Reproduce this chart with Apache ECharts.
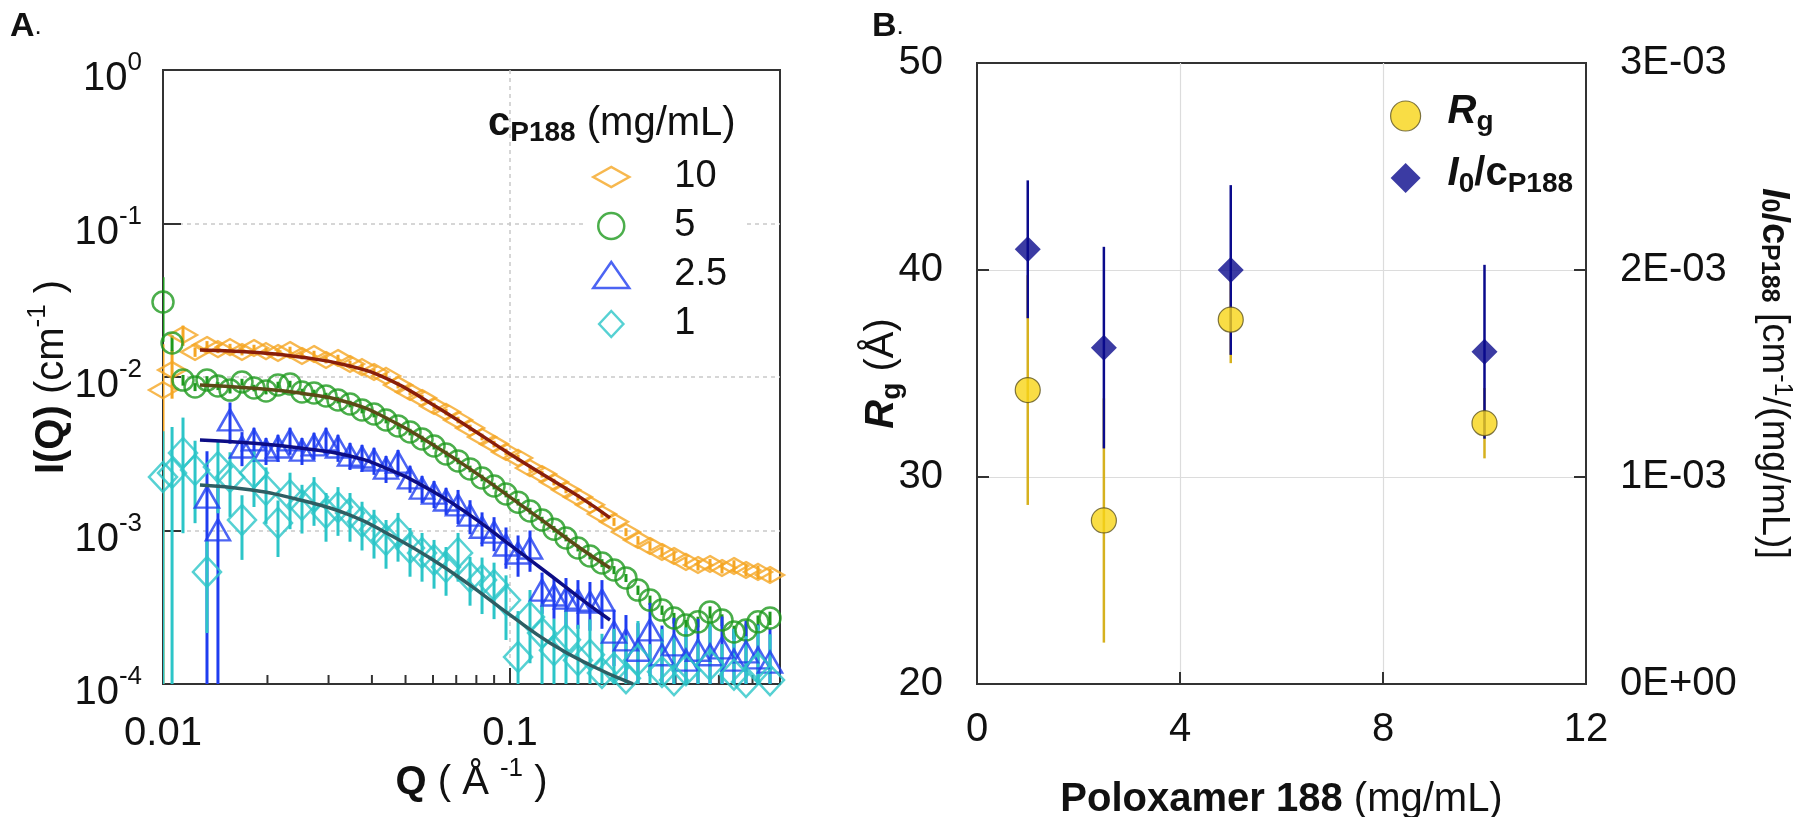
<!DOCTYPE html>
<html>
<head>
<meta charset="utf-8">
<title>SANS of Poloxamer 188</title>
<script src="https://cdn.jsdelivr.net/npm/echarts@6.0.0/dist/echarts.min.js"></script>
<style>
html,body{margin:0;padding:0;background:#ffffff;}
#chart{width:1800px;height:817px;}
</style>
</head>
<body>
<div id="chart"></div>
<script>
// ================= Panel A data : I(Q) vs Q =================
const qValues = [0.01000, 0.01062, 0.01142, 0.01237, 0.01339, 0.01440, 0.01560, 0.01689, 0.01829, 0.01981,
  0.02145, 0.02323, 0.02515, 0.02724, 0.02950, 0.03194, 0.03459, 0.03746, 0.04056, 0.04393,
  0.04757, 0.05151, 0.05579, 0.06041, 0.06542, 0.07084, 0.07671, 0.08307, 0.08996, 0.09739,
  0.1055, 0.1142, 0.1237, 0.1339, 0.1450, 0.1570, 0.1700, 0.1841, 0.1994, 0.2159,
  0.2338, 0.2532, 0.2742, 0.2969, 0.3215, 0.3482, 0.3771, 0.4083, 0.4421, 0.4788,
  0.5185, 0.5615];

const iConc10 = [0.00822, 0.01111, 0.01879, 0.01455, 0.01616, 0.01521, 0.01567, 0.01455, 0.01545, 0.01476,
  0.01433, 0.01500, 0.01371, 0.01412, 0.01291, 0.01330, 0.01216, 0.01161, 0.01078, 0.01016,
  0.00887, 0.00799, 0.00730, 0.00647, 0.00592, 0.00525, 0.00466, 0.00407, 0.00366, 0.00325,
  0.00297, 0.00255, 0.00233, 0.00207, 0.00184, 0.00165, 0.00147, 0.00128, 0.00114, 0.000977,
  0.000867, 0.000793, 0.000724, 0.000682, 0.000624, 0.000596, 0.000605, 0.000570, 0.000587, 0.000553,
  0.000537, 0.000513];
const relErr10 = [0.99, 0.35, 0.15, 0.07, 0.06, 0.06, 0.05, 0.05, 0.05, 0.05,
  0.05, 0.05, 0.05, 0.05, 0.05, 0.05, 0.05, 0.05, 0.05, 0.05,
  0.05, 0.05, 0.05, 0.05, 0.05, 0.05, 0.05, 0.05, 0.05, 0.05,
  0.05, 0.05, 0.05, 0.05, 0.05, 0.05, 0.05, 0.05, 0.06, 0.06,
  0.06, 0.06, 0.07, 0.07, 0.07, 0.08, 0.08, 0.08, 0.09, 0.09,
  0.10, 0.10];

const iConc5 = [0.03083, 0.01664, 0.00955, 0.00861, 0.00955, 0.00874, 0.00822, 0.00927, 0.00848, 0.00811,
  0.00887, 0.00900, 0.00799, 0.00787, 0.00752, 0.00708, 0.00667, 0.00610, 0.00574, 0.00525,
  0.00480, 0.00438, 0.00395, 0.00355, 0.00315, 0.00284, 0.00252, 0.00220, 0.00195, 0.00173,
  0.00153, 0.00134, 0.00117, 0.00102, 0.000894, 0.000769, 0.000682, 0.000614, 0.000553, 0.000491,
  0.000409, 0.000352, 0.000303, 0.000269, 0.000242, 0.000254, 0.000294, 0.000261, 0.000218, 0.000225,
  0.000254, 0.000269];
const relErr5 = [0.45, 0.12, 0.08, 0.06, 0.06, 0.06, 0.05, 0.05, 0.05, 0.05,
  0.05, 0.05, 0.05, 0.05, 0.05, 0.05, 0.05, 0.05, 0.05, 0.05,
  0.05, 0.05, 0.05, 0.05, 0.05, 0.05, 0.05, 0.05, 0.05, 0.05,
  0.05, 0.05, 0.05, 0.05, 0.05, 0.05, 0.05, 0.06, 0.06, 0.06,
  0.07, 0.07, 0.07, 0.08, 0.08, 0.08, 0.09, 0.09, 0.10, 0.10,
  0.10, 0.10];

const iConc2p5 = [null, null, null, null, 0.00165, 0.00101, 0.00525, 0.00350, 0.00389, 0.00334,
  0.00350, 0.00389, 0.00334, 0.00361, 0.00389, 0.00350, 0.00310, 0.00301, 0.00288, 0.00255,
  0.00279, 0.00220, 0.00189, 0.00175, 0.00158, 0.00147, 0.00126, 0.00105, 0.000977, 0.000805,
  0.000714, 0.000769, 0.000409, 0.000380, 0.000363, 0.000352, 0.000342, 0.000352, 0.000218, 0.000194,
  0.000166, 0.000225, 0.000155, 0.000180, 0.000143, 0.000166, 0.000155, 0.000172, 0.000143, 0.000162,
  0.000148, 0.000139];
const relErr2p5 = [0, 0, 0, 0, 0.99, 0.99, 0.30, 0.25, 0.20, 0.20,
  0.20, 0.20, 0.20, 0.20, 0.20, 0.20, 0.20, 0.20, 0.20, 0.20,
  0.20, 0.20, 0.20, 0.20, 0.20, 0.25, 0.25, 0.25, 0.25, 0.30,
  0.30, 0.30, 0.30, 0.30, 0.35, 0.35, 0.35, 0.35, 0.40, 0.45,
  0.50, 0.50, 0.55, 0.50, 0.55, 0.60, 0.55, 0.60, 0.60, 0.60,
  0.65, 0.65];

const iConc1 = [0.00223, 0.00237, 0.00320, 0.00248, 0.000537, 0.00259, 0.00223, 0.00117, 0.00237, 0.00184,
  0.00112, 0.00170, 0.00147, 0.00165, 0.00130, 0.00142, 0.00130, 0.00114, 0.00101, 0.000867,
  0.000964, 0.000769, 0.000714, 0.000643, 0.000578, 0.000714, 0.000498, 0.000476, 0.000441, 0.000352,
  0.000150, 0.000273, 0.000215, 0.000166, 0.000194, 0.000143, 0.000155, 0.000118, 0.000127, 0.000109,
  0.000143, 0.0000914, 0.000120, 0.000106, 0.000123, 0.0000985, 0.000133, 0.0000914, 0.000115, 0.000103,
  0.000127, 0.000106];
const relErr1 = [0.99, 0.99, 0.70, 0.55, 0.60, 0.50, 0.45, 0.45, 0.40, 0.40,
  0.40, 0.40, 0.35, 0.35, 0.35, 0.35, 0.35, 0.35, 0.35, 0.35,
  0.35, 0.35, 0.35, 0.35, 0.35, 0.35, 0.35, 0.40, 0.40, 0.45,
  0.99, 0.50, 0.55, 0.60, 0.60, 0.70, 0.70, 0.80, 0.80, 0.90,
  0.80, 0.99, 0.90, 0.99, 0.90, 0.99, 0.90, 0.99, 0.99, 0.99,
  0.90, 0.99];

// model fits
const fitQ = [0.01278, 0.01781, 0.02482, 0.03459, 0.04511, 0.05883, 0.07668, 0.1000, 0.1304, 0.1591, 0.1942];
const fitConc10 = [0.01500, 0.01455, 0.01349, 0.01180, 0.00955, 0.00677, 0.00466, 0.00315, 0.00217, 0.00165, 0.00121];
const fitConc5 = [0.00887, 0.00848, 0.00787, 0.00677, 0.00525, 0.00372, 0.00252, 0.00165, 0.00107, 0.000769, 0.000570];
const fitConc2p5 = [0.00389, 0.00372, 0.00345, 0.00306, 0.00248, 0.00184, 0.00126, 0.000805, 0.000513, 0.000363, 0.000261];
const fitQConc1 = [0.01278, 0.01781, 0.02482, 0.03459, 0.04511, 0.05883, 0.07668, 0.1000, 0.1304, 0.1700, 0.2262];
const fitConc1 = [0.00198, 0.00184, 0.00158, 0.00126, 0.000935, 0.000662, 0.000441, 0.000282, 0.000185, 0.000133, 0.000100];

// axis ticks for panel A
const qTickValues = [0.01, 0.1];
const qTickLabels = ['0.01', '0.1'];
const qMinorTicks = [0.02, 0.03, 0.04, 0.05, 0.06, 0.07, 0.08, 0.09, 0.2, 0.3, 0.4, 0.5];
const iTickValues = [1e-4, 1e-3, 1e-2, 1e-1, 1];
const iTickExponents = ['-4', '-3', '-2', '-1', '0'];

// ================= Panel B data =================
const p188Conc = [1, 2.5, 5, 10];
const rgValues = [34.2, 27.9, 37.6, 32.6];
const rgErrors = [5.55, 5.9, 2.1, 1.7];
const i0cValues = [0.002100, 0.001625, 0.002000, 0.001605];
const i0cErrors = [0.000333, 0.000487, 0.000410, 0.000420];

// ================= styling =================
const FONT = '"Liberation Sans", Arial, Helvetica, sans-serif';
const INK = '#111111';
const AXIS = '#333333';
const COL = {c10: '#F5A623', c5: '#1E9A1E', c2p5: '#1F3DF0', c1: '#2CC5C8'};
const FITCOL = {c10: '#8A1E0A', c5: '#5B4A16', c2p5: '#0D0D85', c1: '#2E5E63'};
const RG_FILL = '#F7D417', RG_BAR = '#D6B11E', I0_COL = '#0A0A8C';

function points(vals) {
  const out = [];
  qValues.forEach((q, i) => { if (vals[i] != null) out.push([q, vals[i]]); });
  return out;
}
function bars(vals, rel) {
  const out = [];
  qValues.forEach((q, i) => { if (vals[i] != null) out.push([q, vals[i] * (1 - rel[i]), vals[i] * (1 + rel[i])]); });
  return out;
}
function fitLine(qs, vals) { return qs.map((q, i) => [q, vals[i]]); }
function barRender(color, width, floor) {
  return function (params, api) {
    const x = api.value(0);
    let lo = api.value(1);
    const hi = api.value(2);
    if (floor != null && !(lo > floor)) lo = floor;
    const a = api.coord([x, hi]);
    const b = api.coord([x, lo]);
    return {type: 'line', shape: {x1: a[0], y1: a[1], x2: b[0], y2: b[1]},
      style: {stroke: color, lineWidth: width}};
  };
}
function near(v, t) { return Math.abs(v - t) <= Math.abs(t) * 1e-6; }
function sciLabel(v) {
  if (Math.abs(v) < 1e-12) return '0E+00';
  const e = Math.floor(Math.log10(Math.abs(v)) + 1e-9);
  const m = Math.round(v / Math.pow(10, e));
  const ae = Math.abs(e);
  return m + 'E' + (e < 0 ? '-' : '+') + (ae < 10 ? '0' : '') + ae;
}

const richTickY = {
  b: {fontFamily: FONT, fontSize: 40, color: INK, lineHeight: 40, padding: [18, 0, 0, 0]},
  s: {fontFamily: FONT, fontSize: 26, color: INK, lineHeight: 26, verticalAlign: 'top'}
};
const richTitleA = {
  b: {fontFamily: FONT, fontSize: 40, fontWeight: 'bold', color: INK, lineHeight: 40, padding: [14, 0, 0, 0]},
  n: {fontFamily: FONT, fontSize: 40, color: INK, lineHeight: 40, padding: [14, 0, 0, 0]},
  s: {fontFamily: FONT, fontSize: 26, color: INK, lineHeight: 26, verticalAlign: 'top'}
};
const richTitleBX = {
  b: {fontFamily: FONT, fontSize: 40, fontWeight: 'bold', color: INK, lineHeight: 40},
  n: {fontFamily: FONT, fontSize: 40, color: INK, lineHeight: 40}
};
const richRg = {
  ri: {fontFamily: FONT, fontSize: 40, fontWeight: 'bold', fontStyle: 'italic', color: INK, lineHeight: 40, padding: [0, 0, 8, 0]},
  b: {fontFamily: FONT, fontSize: 40, fontWeight: 'bold', color: INK, lineHeight: 40, padding: [0, 0, 8, 0]},
  n: {fontFamily: FONT, fontSize: 40, color: INK, lineHeight: 40, padding: [0, 0, 8, 0]},
  sub: {fontFamily: FONT, fontSize: 28, fontWeight: 'bold', color: INK, lineHeight: 28, verticalAlign: 'bottom'}
};
const richI0Axis = {
  bi: {fontFamily: FONT, fontSize: 38, fontWeight: 'bold', fontStyle: 'italic', color: INK, lineHeight: 38, padding: [12, 0, 8, 0]},
  b: {fontFamily: FONT, fontSize: 38, fontWeight: 'bold', color: INK, lineHeight: 38, padding: [12, 0, 8, 0]},
  n: {fontFamily: FONT, fontSize: 38, color: INK, lineHeight: 38, padding: [12, 0, 8, 0]},
  sub: {fontFamily: FONT, fontSize: 25, fontWeight: 'bold', color: INK, lineHeight: 25, verticalAlign: 'bottom'},
  sup: {fontFamily: FONT, fontSize: 25, color: INK, lineHeight: 25, verticalAlign: 'top'}
};

const hollow = (c) => ({color: 'rgba(0,0,0,0)', borderColor: c, borderWidth: 2.5});
const dottedGrid = {show: true, showMinLine: false, showMaxLine: false,
  lineStyle: {color: '#c9c9c9', width: 1.5, type: [4, 4]}};
const solidGrid = {show: true, showMinLine: false, showMaxLine: false,
  lineStyle: {color: '#dcdcdc', width: 1.2, type: 'solid'}};

const chart = echarts.init(document.getElementById('chart'), null, {renderer: 'canvas'});

const option = {
  animation: false,
  backgroundColor: '#ffffff',
  textStyle: {fontFamily: FONT, color: INK},
  grid: [
    {left: 163, top: 70, width: 617, height: 614, show: true, borderColor: AXIS, borderWidth: 2,
      backgroundColor: 'rgba(0,0,0,0)', containLabel: false, outerBoundsMode: 'none'},
    {left: 977, top: 63, width: 609, height: 621, show: true, borderColor: AXIS, borderWidth: 2,
      backgroundColor: 'rgba(0,0,0,0)', containLabel: false, outerBoundsMode: 'none'}
  ],
  xAxis: [
    {
      type: 'log', gridIndex: 0, logBase: 10, min: 0.01, max: 0.6,
      axisLine: {show: true, lineStyle: {color: AXIS, width: 2}},
      axisTick: {show: true, inside: true, length: 16, lineStyle: {color: AXIS, width: 2}},
      axisLabel: {fontFamily: FONT, fontSize: 40, color: INK, margin: 30, lineHeight: 40,
        showMaxLabel: false,
        formatter: (v) => { const k = qTickValues.findIndex(t => near(v, t)); return k >= 0 ? qTickLabels[k] : ''; }},
      splitLine: dottedGrid,
      minorTick: {show: false},
      name: '{b|Q}{n| ( Å }{s|-1}{n| )}', nameLocation: 'middle', nameGap: 72, nameMoveOverlap: false,
      nameTextStyle: {rich: richTitleA}
    },
    {
      type: 'value', gridIndex: 1, min: 0, max: 12, interval: 4,
      axisLine: {show: true, lineStyle: {color: AXIS, width: 2}},
      axisTick: {show: true, inside: true, length: 12, lineStyle: {color: AXIS, width: 2}},
      axisLabel: {fontFamily: FONT, fontSize: 40, color: INK, margin: 26, lineHeight: 40},
      splitLine: solidGrid,
      name: '{b|Poloxamer 188}{n| (mg/mL)}', nameLocation: 'middle', nameGap: 96, nameMoveOverlap: false,
      nameTextStyle: {rich: richTitleBX}
    }
  ],
  yAxis: [
    {
      type: 'log', gridIndex: 0, logBase: 10, min: 1e-4, max: 1,
      axisLine: {show: true, lineStyle: {color: AXIS, width: 2}},
      axisTick: {show: true, inside: true, length: 18, lineStyle: {color: AXIS, width: 2}},
      axisLabel: {margin: 21, align: 'right',
        formatter: (v) => { const k = iTickValues.findIndex(t => near(v, t)); return k >= 0 ? '{b|10}{s|' + iTickExponents[k] + '}' : ''; },
        rich: richTickY},
      splitLine: dottedGrid,
      name: '{b|I(Q)}{n| (cm}{s|-1}{n| )}', nameLocation: 'middle', nameGap: 98, nameRotate: 90, nameMoveOverlap: false,
      nameTextStyle: {rich: richTitleA}
    },
    {
      type: 'value', gridIndex: 1, position: 'left', min: 20, max: 50, interval: 10,
      axisLine: {show: true, lineStyle: {color: AXIS, width: 2}},
      axisTick: {show: true, inside: true, length: 12, lineStyle: {color: AXIS, width: 2}},
      axisLabel: {fontFamily: FONT, fontSize: 40, color: INK, margin: 34},
      splitLine: solidGrid,
      name: '{ri|R}{sub|g}{n| (Å)}', nameLocation: 'middle', nameGap: 71, nameRotate: 90, nameMoveOverlap: false,
      nameTextStyle: {rich: richRg}
    },
    {
      type: 'value', gridIndex: 1, position: 'right', min: 0, max: 0.003, interval: 0.001,
      axisLine: {show: true, lineStyle: {color: AXIS, width: 2}},
      axisTick: {show: true, inside: true, length: 12, lineStyle: {color: AXIS, width: 2}},
      axisLabel: {fontFamily: FONT, fontSize: 40, color: INK, margin: 34, formatter: sciLabel},
      splitLine: {show: false},
      name: '{bi|I}{sub|0}{b|/c}{sub|P188}{n| [cm}{sup|-1}{n|/(mg/mL)]}', nameLocation: 'middle', nameGap: 170,
      nameRotate: -90, nameMoveOverlap: false,
      nameTextStyle: {rich: richI0Axis}
    }
  ],
  legend: [
    {
      data: [
        {name: '10', icon: 'path://M0,9L16,0L32,9L16,18Z', itemStyle: hollow(COL.c10)},
        {name: '5', icon: 'circle', itemStyle: hollow(COL.c5)},
        {name: '2.5', icon: 'triangle', itemStyle: hollow(COL.c2p5)},
        {name: '1', icon: 'path://M0,15L14,0L28,15L14,30Z', itemStyle: hollow(COL.c1)}
      ],
      orient: 'vertical', left: 586, top: 154, itemWidth: 36, itemHeight: 26, itemGap: 11,
      padding: [4, 16, 4, 6], backgroundColor: '#ffffff', selectedMode: false,
      textStyle: {fontFamily: FONT, fontSize: 38, lineHeight: 38, color: INK, padding: [0, 0, 0, 40]}
    },
    {
      data: [
        {name: 'Rg', icon: 'circle', itemStyle: {color: RG_FILL, borderColor: '#5E5420', borderWidth: 1.2}},
        {name: 'I0/cP188', icon: 'diamond', itemStyle: {color: I0_COL, borderColor: I0_COL, borderWidth: 0}}
      ],
      orient: 'vertical', left: 1390, top: 92, itemWidth: 30, itemHeight: 30, itemGap: 14,
      padding: 0, selectedMode: false,
      formatter: (n) => n === 'Rg' ? '{ri|R}{sub|g}' : '{ri|I}{sub|0}{b|/c}{sub|P188}',
      textStyle: {fontFamily: FONT, padding: [0, 0, 0, 22], rich: richRg}
    }
  ],
  graphic: [
    {type: 'text', left: 10, top: 10, style: {text: '{b|A}{n|.}',
      rich: {b: {fontFamily: FONT, fontSize: 34, fontWeight: 'bold', fill: INK}, n: {fontFamily: FONT, fontSize: 26, fill: INK}}}},
    {type: 'text', left: 872, top: 10, style: {text: '{b|B}{n|.}',
      rich: {b: {fontFamily: FONT, fontSize: 34, fontWeight: 'bold', fill: INK}, n: {fontFamily: FONT, fontSize: 26, fill: INK}}}},
    {type: 'text', left: 488, top: 104, z: 100, style: {text: '{b|c}{sub|P188}{n| (mg/mL)}',
      rich: {
        b: {fontFamily: FONT, fontSize: 40, fontWeight: 'bold', fill: INK, lineHeight: 40, padding: [0, 0, 6, 0]},
        n: {fontFamily: FONT, fontSize: 40, fill: INK, lineHeight: 40, padding: [0, 0, 6, 0]},
        sub: {fontFamily: FONT, fontSize: 28, fontWeight: 'bold', fill: INK, lineHeight: 28, verticalAlign: 'bottom'}
      }}}
  ],
  series: [
    // ---- panel A: error bars + data ----
    {type: 'custom', name: 'err10', xAxisIndex: 0, yAxisIndex: 0, data: bars(iConc10, relErr10), dimensions: ['q', 'lo', 'hi'],
      encode: {x: 0, y: [1, 2]}, renderItem: barRender(COL.c10, 3, 1e-4), clip: true, z: 2, silent: true},
    {type: 'scatter', name: '10', xAxisIndex: 0, yAxisIndex: 0, data: points(iConc10), symbol: 'diamond', symbolSize: [28, 16],
      itemStyle: hollow(COL.c10), clip: true, z: 3, silent: true},
    {type: 'custom', name: 'err5', xAxisIndex: 0, yAxisIndex: 0, data: bars(iConc5, relErr5), dimensions: ['q', 'lo', 'hi'],
      encode: {x: 0, y: [1, 2]}, renderItem: barRender(COL.c5, 3, 1e-4), clip: true, z: 2, silent: true},
    {type: 'scatter', name: '5', xAxisIndex: 0, yAxisIndex: 0, data: points(iConc5), symbol: 'circle', symbolSize: 21,
      itemStyle: hollow(COL.c5), clip: true, z: 3, silent: true},
    {type: 'custom', name: 'err2.5', xAxisIndex: 0, yAxisIndex: 0, data: bars(iConc2p5, relErr2p5), dimensions: ['q', 'lo', 'hi'],
      encode: {x: 0, y: [1, 2]}, renderItem: barRender(COL.c2p5, 3, 1e-4), clip: true, z: 2, silent: true},
    {type: 'scatter', name: '2.5', xAxisIndex: 0, yAxisIndex: 0, data: points(iConc2p5), symbol: 'triangle', symbolSize: [24, 21],
      itemStyle: hollow(COL.c2p5), clip: true, z: 3, silent: true},
    {type: 'custom', name: 'err1', xAxisIndex: 0, yAxisIndex: 0, data: bars(iConc1, relErr1), dimensions: ['q', 'lo', 'hi'],
      encode: {x: 0, y: [1, 2]}, renderItem: barRender(COL.c1, 3, 1e-4), clip: true, z: 2, silent: true},
    {type: 'scatter', name: '1', xAxisIndex: 0, yAxisIndex: 0, data: points(iConc1), symbol: 'diamond', symbolSize: [28, 30],
      itemStyle: hollow(COL.c1), clip: true, z: 3, silent: true},
    // ---- panel A: fits ----
    {type: 'line', name: 'fit10', xAxisIndex: 0, yAxisIndex: 0, data: fitLine(fitQ, fitConc10), smooth: true, showSymbol: false,
      lineStyle: {color: FITCOL.c10, width: 3.5}, z: 4, silent: true},
    {type: 'line', name: 'fit5', xAxisIndex: 0, yAxisIndex: 0, data: fitLine(fitQ, fitConc5), smooth: true, showSymbol: false,
      lineStyle: {color: FITCOL.c5, width: 3.5}, z: 4, silent: true},
    {type: 'line', name: 'fit2.5', xAxisIndex: 0, yAxisIndex: 0, data: fitLine(fitQ, fitConc2p5), smooth: true, showSymbol: false,
      lineStyle: {color: FITCOL.c2p5, width: 3.5}, z: 4, silent: true},
    {type: 'line', name: 'fit1', xAxisIndex: 0, yAxisIndex: 0, data: fitLine(fitQConc1, fitConc1), smooth: true, showSymbol: false,
      lineStyle: {color: FITCOL.c1, width: 3.5}, z: 4, silent: true},
    // ---- panel A: minor ticks on the log Q axis ----
    {type: 'custom', name: 'minorQ', xAxisIndex: 0, yAxisIndex: 0, data: qMinorTicks.map(q => [q, 1e-4]),
      renderItem: (params, api) => {
        const c = api.coord([api.value(0), api.value(1)]);
        return {type: 'line', shape: {x1: c[0], y1: c[1], x2: c[0], y2: c[1] - 9}, style: {stroke: AXIS, lineWidth: 2}};
      }, clip: false, z: 1, silent: true},
    // ---- panel B ----
    {type: 'custom', name: 'rgErr', xAxisIndex: 1, yAxisIndex: 1,
      data: p188Conc.map((x, i) => [x, rgValues[i] - rgErrors[i], rgValues[i] + rgErrors[i]]), dimensions: ['c', 'lo', 'hi'],
      encode: {x: 0, y: [1, 2]}, renderItem: barRender(RG_BAR, 2.5, null), z: 2, silent: true},
    {type: 'custom', name: 'i0Err', xAxisIndex: 1, yAxisIndex: 2,
      data: p188Conc.map((x, i) => [x, i0cValues[i] - i0cErrors[i], i0cValues[i] + i0cErrors[i]]), dimensions: ['c', 'lo', 'hi'],
      encode: {x: 0, y: [1, 2]}, renderItem: barRender(I0_COL, 2.5, null), z: 3, silent: true},
    {type: 'scatter', name: 'Rg', xAxisIndex: 1, yAxisIndex: 1, data: p188Conc.map((x, i) => [x, rgValues[i]]),
      symbol: 'circle', symbolSize: 25, itemStyle: {color: RG_FILL, borderColor: '#5E5420', borderWidth: 1.2}, z: 4, silent: true},
    {type: 'scatter', name: 'I0/cP188', xAxisIndex: 1, yAxisIndex: 2, data: p188Conc.map((x, i) => [x, i0cValues[i]]),
      symbol: 'diamond', symbolSize: 26, itemStyle: {color: I0_COL}, z: 5, silent: true}
  ]
};
chart.setOption(option);
</script>
</body>
</html>
